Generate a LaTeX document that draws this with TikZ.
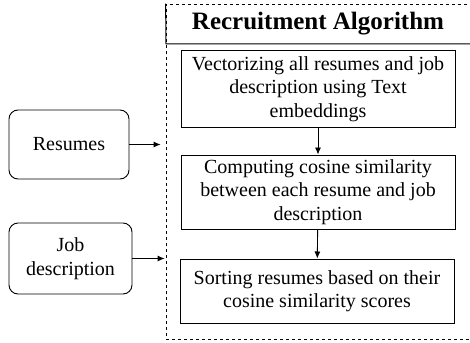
\documentclass[tikz,border=0pt]{standalone}
\usepackage{fontspec}
\setmainfont{Liberation Serif}
\usetikzlibrary{arrows.meta}

\begin{document}
\begin{tikzpicture}[
	x=1pt, y=-1pt,
	font=\fontsize{20}{23.5}\selectfont,
	stepbox/.style={ draw, line width=1pt, align=center, inner sep=2pt },
	inbox/.style={ draw, line width=0.9pt, rounded corners=9pt, align=center },
	frame/.style={ draw, dashed, line width=0.8pt, minimum width=310pt, minimum height=335pt, inner sep=0pt },
	flow/.style={ -{Latex[length=7pt,width=6pt]}, line width=0.9pt }
]
\useasboundingbox (0,0) rectangle (470,342);
\clip (0,0) rectangle (470,342);

\node at (321,171.5) (algo) [frame] {};
\coordinate (tl) at (166,44);
\coordinate (tr) at (476,44);
\draw[line width=1pt] (algo.north west) -- (tl) -- (tr);
\node at (318,24) (title) {\fontsize{25}{28}\selectfont\bfseries Recruitment Algorithm};

\node at (318,89) (vec) [stepbox, minimum width=274pt, minimum height=76pt] {Vectorizing all resumes and job\\description using Text\\embeddings};
\node at (318,192) (cos) [stepbox, minimum width=274pt, minimum height=74pt] {Computing cosine similarity\\between each resume and job\\description};
\node at (317,291) (sort) [stepbox, minimum width=274pt, minimum height=64pt] {Sorting resumes based on their\\cosine similarity scores};
\draw[flow] (vec) -- (cos);
\draw[flow] (cos) -- (sort);

\node at (69,144.5) (res) [inbox, minimum width=120pt, minimum height=69pt] {Resumes};
\node at (70.5,258.5) (job) [inbox, minimum width=123pt, minimum height=71pt] {Job\\description};
\draw[flow, shorten >=5pt] (res.east) -- (algo.west |- res.east);
\draw[flow, shorten >=1pt] (job.east) -- (algo.west |- job.east);

\end{tikzpicture}
\end{document}
